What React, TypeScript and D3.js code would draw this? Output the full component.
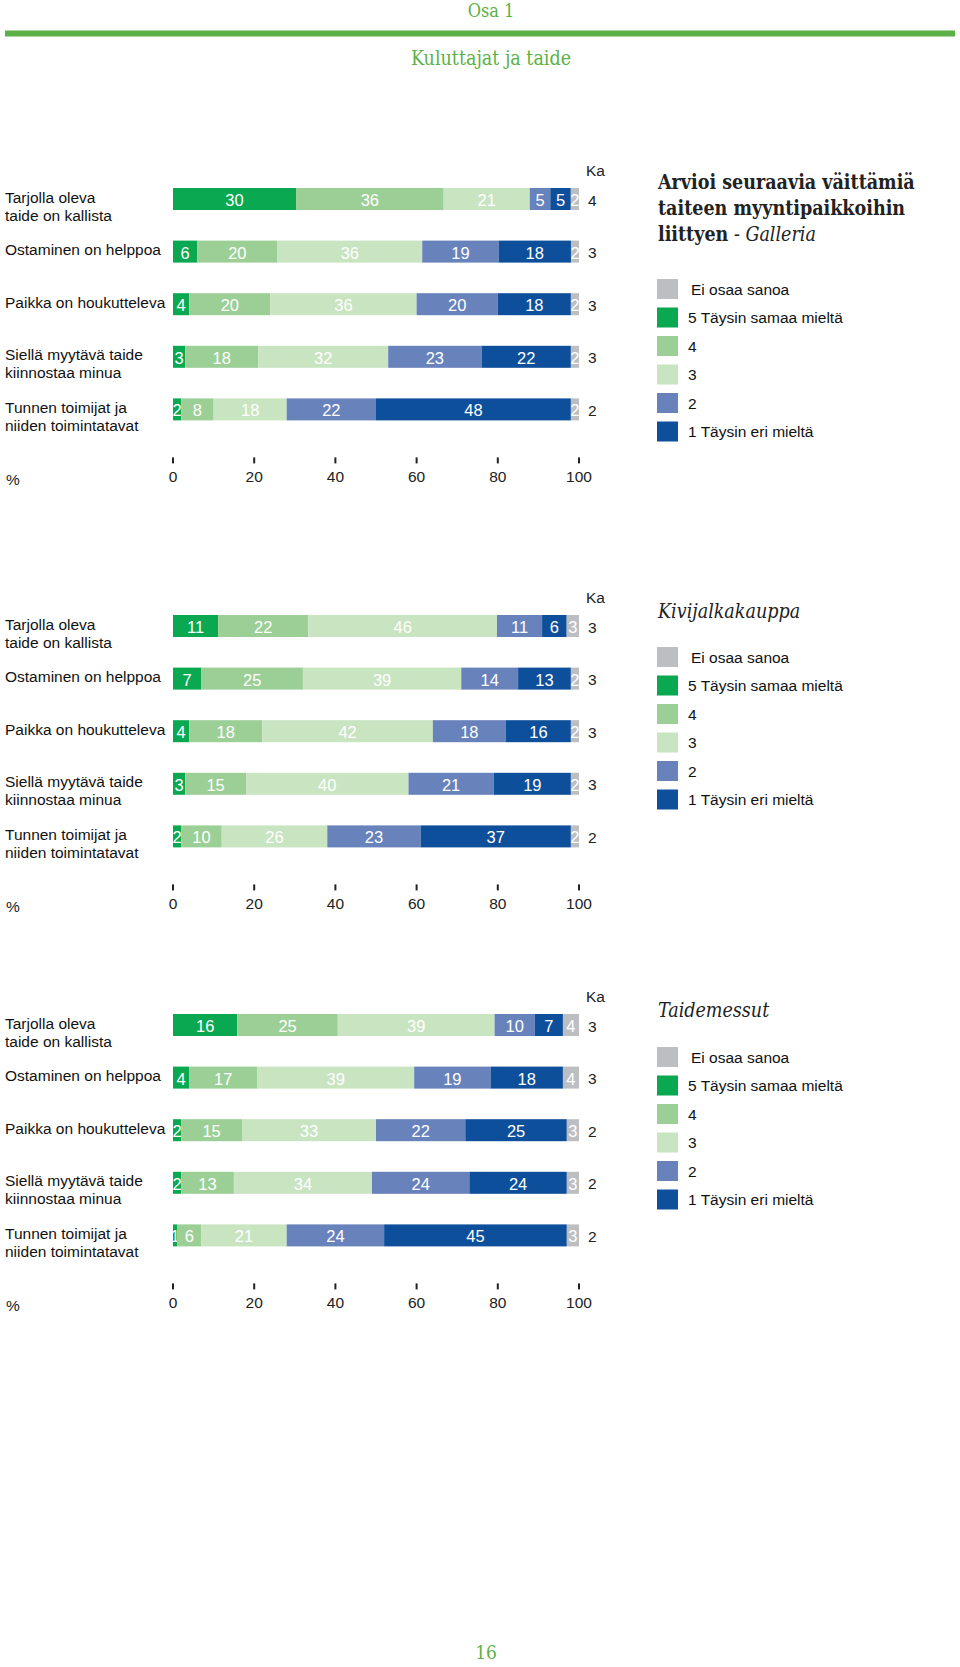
import { useEffect, useRef } from "react";
import * as d3 from "d3";

const ROW_LABELS = [
  ["Tarjolla oleva", "taide on kallista"],
  ["Ostaminen on helppoa"],
  ["Paikka on houkutteleva"],
  ["Siellä myytävä taide", "kiinnostaa minua"],
  ["Tunnen toimijat ja", "niiden toimintatavat"],
];
// segment order: 5, 4, 3, 2, 1, Ei osaa sanoa
const SEG_COLORS = ["#0aa851", "#9ccf96", "#c9e4c1", "#6882bb", "#0e4f9b", "#bdbec1"];
const LEGEND_LABELS = ["Ei osaa sanoa", "5 Täysin samaa mieltä", "4", "3", "2", "1 Täysin eri mieltä"];
const LEGEND_COLORS = ["#bdbec1", "#0aa851", "#9ccf96", "#c9e4c1", "#6882bb", "#0e4f9b"];
const TICKS = [0, 20, 40, 60, 80, 100];

const GALLERIA = [
  [30, 36, 21, 5, 5, 2],
  [6, 20, 36, 19, 18, 2],
  [4, 20, 36, 20, 18, 2],
  [3, 18, 32, 23, 22, 2],
  [2, 8, 18, 22, 48, 2],
];
const GALLERIA_KA = [4, 3, 3, 3, 2];

const KIVIJALKA = [
  [11, 22, 46, 11, 6, 3],
  [7, 25, 39, 14, 13, 2],
  [4, 18, 42, 18, 16, 2],
  [3, 15, 40, 21, 19, 2],
  [2, 10, 26, 23, 37, 2],
];
const KIVIJALKA_KA = [3, 3, 3, 3, 2];

const MESSUT = [
  [16, 25, 39, 10, 7, 4],
  [4, 17, 39, 19, 18, 4],
  [2, 15, 33, 22, 25, 3],
  [2, 13, 34, 24, 24, 3],
  [1, 6, 21, 24, 45, 3],
];
const MESSUT_KA = [3, 3, 2, 2, 2];

const SANS = "'Liberation Sans', Arial, sans-serif";
const SERIF = "'DejaVu Serif Condensed', 'DejaVu Serif', serif";
const GREEN = "#5cb146";

const PANELS = [
  { data: GALLERIA, ka: GALLERIA_KA, top: 199, legendTop: 289, title: [["Arvioi seuraavia väittämiä", ""], ["taiteen myyntipaikkoihin", ""], ["liittyen", "Galleria"]], titleTop: 182 },
  { data: KIVIJALKA, ka: KIVIJALKA_KA, top: 626, legendTop: 657, title: [["", "Kivijalkakauppa"]], titleTop: 611 },
  { data: MESSUT, ka: MESSUT_KA, top: 1025, legendTop: 1057, title: [["", "Taidemessut"]], titleTop: 1010 },
];

export default function App() {
  const ref = useRef<SVGSVGElement>(null);

  useEffect(() => {
    if (!ref.current) return;
    const svg = d3.select(ref.current);
    svg.selectAll("*").remove();
    const W = 960;

    // page header
    const head = (txt: string, x: number, y: number, size: number) =>
      svg.append("text").attr("x", x).attr("y", y).attr("text-anchor", "middle").attr("dominant-baseline", "central")
        .attr("font-family", SERIF).attr("font-stretch", "condensed").attr("font-size", size).attr("fill", GREEN).text(txt);
    head("Osa 1", 491, 10, 18);
    svg.append("rect").attr("x", 5).attr("y", 30.5).attr("width", W - 10).attr("height", 6).attr("fill", GREEN);
    head("Kuluttajat ja taide", 491, 58, 19.5);
    head("16", 486, 1652, 19);

    const x = d3.scaleLinear().domain([0, 100]).range([173, 579]);
    const rowStep = 52.6, barH = 22;
    const defs = svg.append("defs");
    let clipId = 0;

    PANELS.forEach((p) => {
      const g = svg.append("g");
      const y = (i: number) => p.top + i * rowStep;

      g.append("text").attr("x", 586).attr("y", p.top - 29).attr("dominant-baseline", "central")
        .attr("font-family", SANS).attr("font-size", 15.5).attr("fill", "#222").text("Ka");

      p.data.forEach((row, i) => {
        const total = d3.sum(row);
        const cum = d3.cumsum(row.map((v) => (v / total) * 100));
        const cy = y(i);
        ROW_LABELS[i].forEach((line, li) => {
          g.append("text").attr("x", 5).attr("y", cy - 2 + li * 18).attr("dominant-baseline", "central")
            .attr("font-family", SANS).attr("font-size", 15.5).attr("fill", "#111").text(line);
        });
        row.forEach((v, k) => {
          const x0 = x(k === 0 ? 0 : cum[k - 1]), x1 = x(cum[k]);
          const id = `seg${clipId++}`;
          defs.append("clipPath").attr("id", id).append("rect").attr("x", x0).attr("y", cy - barH / 2).attr("width", x1 - x0).attr("height", barH);
          g.append("rect").attr("x", x0).attr("y", cy - barH / 2).attr("width", x1 - x0).attr("height", barH).attr("fill", SEG_COLORS[k]);
          g.append("text").attr("clip-path", `url(#${id})`).attr("x", (x0 + x1) / 2).attr("y", cy + 1).attr("text-anchor", "middle")
            .attr("dominant-baseline", "central").attr("font-family", SANS).attr("font-size", 16.5).attr("fill", "#fff").text(v);
        });
        g.append("text").attr("x", 588).attr("y", cy + 1).attr("dominant-baseline", "central")
          .attr("font-family", SANS).attr("font-size", 15.5).attr("fill", "#222").text(p.ka[i]);
      });

      const axisY = y(4) + 48;
      TICKS.forEach((t) => {
        g.append("rect").attr("x", x(t) - 1).attr("y", axisY).attr("width", 2).attr("height", 6).attr("fill", "#222");
        g.append("text").attr("x", x(t)).attr("y", axisY + 19).attr("text-anchor", "middle").attr("dominant-baseline", "central")
          .attr("font-family", SANS).attr("font-size", 15.5).attr("fill", "#222").text(t);
      });
      g.append("text").attr("x", 6).attr("y", axisY + 22).attr("dominant-baseline", "central")
        .attr("font-family", SANS).attr("font-size", 15.5).attr("fill", "#222").text("%");

      // legend
      p.title.forEach(([bold, ital], li) => {
        const t = g.append("text").attr("x", 658).attr("y", p.titleTop + li * 26).attr("dominant-baseline", "central")
          .attr("font-family", SERIF).attr("font-stretch", "condensed").attr("font-size", 19.5).attr("fill", "#222");
        if (bold) t.append("tspan").attr("font-weight", "bold").text(bold);
        if (bold && ital) t.append("tspan").text(" - ");
        if (ital) t.append("tspan").attr("font-style", "italic").text(ital);
      });
      LEGEND_LABELS.forEach((lab, k) => {
        const ly = p.legendTop + k * 28.5;
        g.append("rect").attr("x", 657).attr("y", ly - 10).attr("width", 21).attr("height", 20).attr("fill", LEGEND_COLORS[k]);
        g.append("text").attr("x", k === 0 ? 691 : 688).attr("y", ly).attr("dominant-baseline", "central")
          .attr("font-family", SANS).attr("font-size", 15.5).attr("fill", "#111").text(lab);
      });
    });
  }, []);

  return (
    <div style={{ position: "absolute", left: 0, top: 0, width: 960, height: 1667, background: "#fff" }}>
      <svg ref={ref} width={960} height={1667} style={{ display: "block" }} />
    </div>
  );
}
